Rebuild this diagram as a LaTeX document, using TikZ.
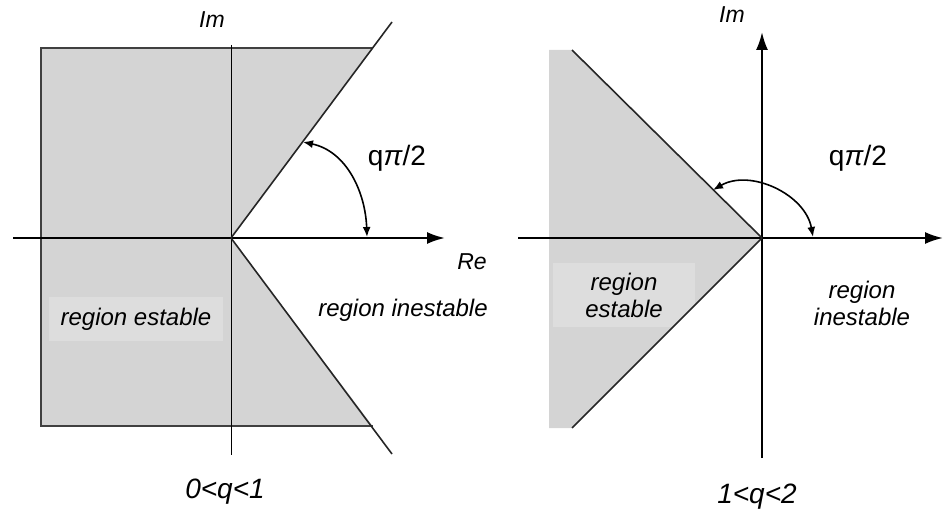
\documentclass[tikz,border=0pt]{standalone}
\usepackage{fontspec}
\setmainfont{Liberation Sans}
\usetikzlibrary{arrows.meta,positioning}
\definecolor{regiongray}{RGB}{212,212,212}
\definecolor{labelgray}{RGB}{221,221,221}

\begin{document}
\begin{tikzpicture}[x=0.5pt,y=0.5pt,
    axis/.style={line width=1.1pt, -{Latex[length=9pt,width=6pt]}},
    thinaxis/.style={line width=0.5pt},
    border/.style={line width=0.8pt, black!85},
    frame/.style={line width=0.6pt, black!75},
    anglearc/.style={line width=0.8pt, {Latex[length=5pt,width=4pt]}-{Latex[length=5pt,width=4pt]}},
    lbl/.style={font=\fontsize{12}{13.5}\selectfont\itshape, align=center, inner sep=0pt},
    axlbl/.style={font=\fontsize{11.5}{13}\selectfont\itshape},
    rng/.style={font=\fontsize{14}{16}\selectfont\itshape},
    ang/.style={font=\fontsize{14}{16}\selectfont}
]
\useasboundingbox (0,0) rectangle (943,515);

% left plane, 0<q<1
\coordinate (oL) at (231,277);
\coordinate (upL) at (392,493);
\coordinate (loL) at (392,61);
\coordinate (trL) at (372.6,467);
\coordinate (brL) at (372.6,89);
\coordinate (tlL) at (41,467);
\coordinate (blL) at (41,89);
\coordinate (imtopL) at (231,470);
\coordinate (imbotL) at (231,60);
\coordinate (reinL) at (13,277);
\coordinate (reoutL) at (445,277);

\fill[regiongray] (tlL) -- (trL) -- (oL) -- (brL) -- (blL) -- cycle;
\node[lbl, fill=labelgray, minimum width=87pt, minimum height=22pt] (estL) at (136,196) {region estable};
\draw[frame] (trL) -- (tlL) -- (blL) -- (brL);
\draw[thinaxis] (imtopL) -- (imbotL);
\draw[axis] (reinL) -- (reoutL);
\draw[border] (oL) -- (upL);
\draw[border] (oL) -- (loL);

\coordinate (arcaL) at (303,373);
\coordinate (arcbL) at (367,278);
\draw[anglearc] (arcaL) to[out=-12, in=92] (arcbL);

\node[axlbl] (imL) at (212,495) {Im};
\node[axlbl] (reL) at (472,253) {Re};
\node[ang] (angL) at (397,357) {q\textit{π}/2};
\node[lbl] (inestL) at (403,205) {region inestable};
\node[rng] (qL) at (225,23) {0<q<1};

% right plane, 1<q<2
\coordinate (oR) at (762,277);
\coordinate (upR) at (572,465);
\coordinate (loR) at (572,87);
\coordinate (tlR) at (549,465);
\coordinate (blR) at (549,87);
\coordinate (imtopR) at (762,483);
\coordinate (imbotR) at (762,57);
\coordinate (reinR) at (518,277);
\coordinate (reoutR) at (943,277);

\fill[regiongray] (tlR) -- (upR) -- (oR) -- (loR) -- (blR) -- cycle;
\begin{scope}
    \clip (tlR) -- (upR) -- (oR) -- (loR) -- (blR) -- cycle;
    \fill[labelgray] (553,188) rectangle (695,252);
\end{scope}
\node[lbl] (estR) at (624,220) {region\\estable};
\draw[axis] (imbotR) -- (imtopR);
\draw[axis] (reinR) -- (reoutR);
\draw[border] (oR) -- (upR);
\draw[border] (oR) -- (loR);

\coordinate (arcaR) at (713,325);
\coordinate (arcbR) at (813,278);
\draw[anglearc] (arcaR) to[out=30, in=100] (arcbR);

\node[axlbl] (imR) at (732,500) {Im};
\node[ang] (angR) at (858,357) {q\textit{π}/2};
\node[lbl] (inestR) at (862,212) {region\\inestable};
\node[rng] (qR) at (757,18) {1<q<2};
\end{tikzpicture}
\end{document}
